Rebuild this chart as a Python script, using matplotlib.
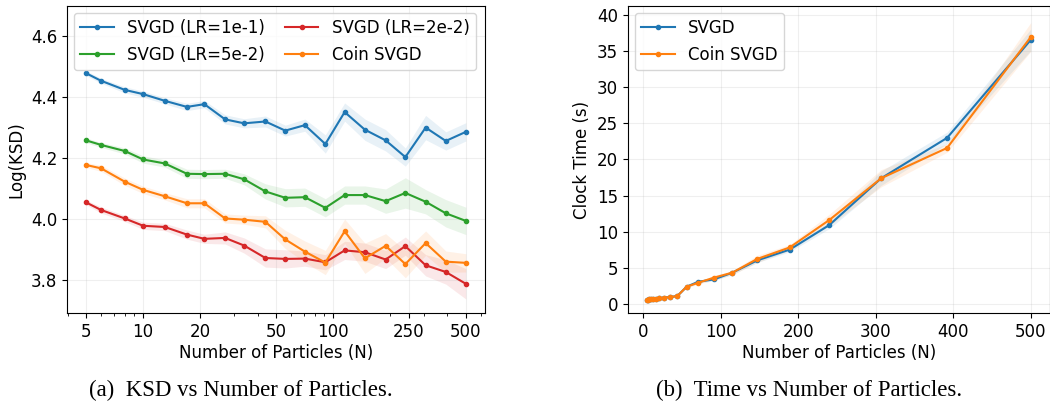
"""KSD 与运行时间随粒子数变化 → out.png"""

import matplotlib
import matplotlib.pyplot as plt
import matplotlib.ticker as mticker

matplotlib.use("Agg")

# ── 数据 ──────────────────────────────────────────
N = [5, 6, 8, 10, 13, 17, 21, 27, 34, 44, 56, 71, 91, 115, 147, 189, 240, 307, 392, 500]

KSD_LR1 = [4.479, 4.454, 4.424, 4.410, 4.388, 4.368, 4.377, 4.327, 4.314, 4.320,
           4.290, 4.308, 4.246, 4.351, 4.293, 4.258, 4.203, 4.300, 4.256, 4.286]
KSD_LR1_STD = [0.008, 0.008, 0.010, 0.010, 0.010, 0.012, 0.012, 0.015, 0.015, 0.018,
               0.018, 0.020, 0.030, 0.030, 0.035, 0.035, 0.030, 0.040, 0.030, 0.030]

KSD_LR5 = [4.258, 4.243, 4.223, 4.195, 4.182, 4.148, 4.147, 4.148, 4.130, 4.090,
           4.069, 4.071, 4.036, 4.078, 4.078, 4.058, 4.085, 4.056, 4.018, 3.993]
KSD_LR5_STD = [0.008, 0.008, 0.010, 0.012, 0.012, 0.015, 0.015, 0.015, 0.018, 0.025,
               0.030, 0.030, 0.030, 0.030, 0.030, 0.040, 0.050, 0.040, 0.045, 0.045]

KSD_LR2 = [4.054, 4.029, 4.001, 3.977, 3.973, 3.948, 3.934, 3.937, 3.912, 3.871,
           3.868, 3.869, 3.857, 3.896, 3.890, 3.866, 3.910, 3.847, 3.825, 3.786]
KSD_LR2_STD = [0.008, 0.010, 0.010, 0.012, 0.012, 0.015, 0.015, 0.020, 0.025, 0.030,
               0.030, 0.025, 0.025, 0.030, 0.030, 0.030, 0.030, 0.035, 0.040, 0.050]

KSD_COIN = [4.177, 4.166, 4.122, 4.095, 4.074, 4.051, 4.051, 4.001, 3.997, 3.990,
            3.932, 3.892, 3.856, 3.959, 3.870, 3.911, 3.851, 3.920, 3.859, 3.855]
KSD_COIN_STD = [0.008, 0.010, 0.012, 0.012, 0.012, 0.015, 0.015, 0.015, 0.015, 0.020,
                0.030, 0.035, 0.040, 0.040, 0.050, 0.040, 0.045, 0.040, 0.035, 0.030]

TIME_SVGD = [0.55, 0.55, 0.60, 0.60, 0.65, 0.70, 0.75, 0.85, 0.90, 1.06,
             2.35, 3.04, 3.36, 4.30, 6.00, 7.50, 10.90, 17.40, 23.00, 36.60]
TIME_SVGD_STD = [0.05, 0.05, 0.05, 0.05, 0.05, 0.05, 0.05, 0.05, 0.05, 0.10,
                 0.15, 0.20, 0.20, 0.25, 0.30, 0.30, 0.50, 1.00, 0.80, 1.50]
TIME_COIN = [0.55, 0.55, 0.60, 0.60, 0.65, 0.70, 0.75, 0.85, 0.90, 1.06,
             2.35, 2.90, 3.60, 4.30, 6.20, 7.80, 11.60, 17.40, 21.60, 37.00]
TIME_COIN_STD = [0.05, 0.05, 0.05, 0.05, 0.05, 0.05, 0.05, 0.05, 0.05, 0.10,
                 0.15, 0.20, 0.30, 0.30, 0.50, 0.40, 0.80, 1.20, 0.60, 2.00]

KSD_TICKS = [5, 10, 20, 50, 100, 250, 500]

BLUE, ORANGE, GREEN, RED = "#1f77b4", "#ff7f0e", "#2ca02c", "#d62728"

plt.rcParams["font.family"] = ["DejaVu Sans"]


def _curve(ax, x, y, std, color, label):
    lo = [a - s for a, s in zip(y, std)]
    hi = [a + s for a, s in zip(y, std)]
    ax.fill_between(x, lo, hi, color=color, alpha=0.1, linewidth=0)
    ax.plot(x, y, "o-", color=color, lw=1.5, ms=3, label=label)


fig = plt.figure(figsize=(10.5, 4.04), dpi=100)
ax1 = fig.add_axes([0.0638, 0.2252, 0.398, 0.760])
ax2 = fig.add_axes([0.598, 0.2252, 0.402, 0.760])

# ── (a) KSD ──────────────────────────────────────
_curve(ax1, N, KSD_LR1, KSD_LR1_STD, BLUE, "SVGD (LR=1e-1)")
_curve(ax1, N, KSD_LR5, KSD_LR5_STD, GREEN, "SVGD (LR=5e-2)")
_curve(ax1, N, KSD_LR2, KSD_LR2_STD, RED, "SVGD (LR=2e-2)")
_curve(ax1, N, KSD_COIN, KSD_COIN_STD, ORANGE, "Coin SVGD")
ax1.set_xscale("log")
ax1.set_xticks(KSD_TICKS)
ax1.xaxis.set_major_formatter(mticker.ScalarFormatter())
ax1.xaxis.set_minor_formatter(mticker.NullFormatter())
ax1.set_ylim(3.69, 4.70)
ax1.set_yticks([3.8, 4.0, 4.2, 4.4, 4.6])
ax1.set_xlabel("Number of Particles (N)", fontsize=12, labelpad=2)
ax1.set_ylabel("Log(KSD)", fontsize=12)
ax1.legend(loc="upper left", ncol=2, fontsize=12, columnspacing=1.2,
           handlelength=2.0, borderaxespad=0.4)

# ── (b) 时间 ─────────────────────────────────────
_curve(ax2, N, TIME_SVGD, TIME_SVGD_STD, BLUE, "SVGD")
_curve(ax2, N, TIME_COIN, TIME_COIN_STD, ORANGE, "Coin SVGD")
ax2.set_ylim(-1.3, 41.3)
ax2.set_xticks([0, 100, 200, 300, 400, 500])
ax2.set_xlabel("Number of Particles (N)", fontsize=12, labelpad=2)
ax2.set_ylabel("Clock Time (s)", fontsize=12)
ax2.legend(loc="upper left", fontsize=12, borderaxespad=0.4)

for ax in (ax1, ax2):
    ax.grid(True, alpha=0.2)
    ax.tick_params(labelsize=12)

cap = dict(fontsize=16.4, family="Liberation Serif", ha="center", va="center")
fig.text(0.229, 0.033, "(a)  KSD vs Number of Particles.", **cap)
fig.text(0.771, 0.033, "(b)  Time vs Number of Particles.", **cap)

fig.savefig("out.png", dpi=100)
